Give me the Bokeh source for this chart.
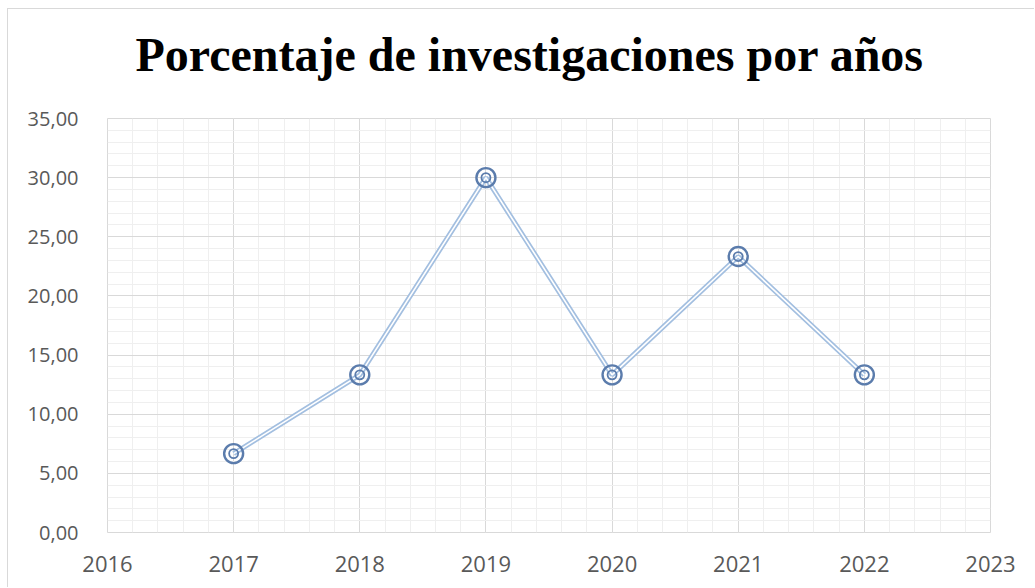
from bokeh.plotting import figure
from bokeh.models import (ColumnDataSource, SingleIntervalTicker, CustomJSTickFormatter,
                          Range1d, Title)
from bokeh.embed import file_html
from bokeh.resources import INLINE

# ---- data ----
years = [2017, 2018, 2019, 2020, 2021, 2022]
percent = [6.67, 13.33, 30.00, 13.33, 23.33, 13.33]
title_text = "Porcentaje de investigaciones por años"

src = ColumnDataSource(dict(x=years, y=percent))

p = figure(width=1027, height=579, output_backend="svg", toolbar_location=None,
           x_range=Range1d(2016, 2023), y_range=Range1d(0, 35),
           min_border_left=99, min_border_right=45, min_border_top=109, min_border_bottom=56)
p.margin = (8, 0, 0, 7)
p.styles = {"border-top": "1px solid #d9d9d9", "border-left": "1px solid #d9d9d9"}
p.background_fill_color = "white"
p.border_fill_color = "white"
p.outline_line_color = "#d9d9d9"
p.outline_line_width = 1

# title (outermost) + blank spacer between title and frame
p.title = Title(text=title_text, align="left", offset=28, standoff=0,
                text_font="Liberation Serif", text_font_style="bold",
                text_font_size="48px", text_color="black")
p.add_layout(Title(text=" ", standoff=0, text_font_size="32px"), "above")

# axes
p.xaxis.ticker = SingleIntervalTicker(interval=1, num_minor_ticks=5)
p.yaxis.ticker = SingleIntervalTicker(interval=5, num_minor_ticks=5)
p.yaxis.formatter = CustomJSTickFormatter(code="return tick.toFixed(2).replace('.', ',');")
for ax in (p.xaxis, p.yaxis):
    ax.axis_line_color = None
    ax.major_tick_line_color = None
    ax.minor_tick_line_color = None
    ax.major_label_text_color = "#595959"
    ax.major_label_text_font = "Open Sans"
p.yaxis.major_label_text_font_size = "20px"
p.xaxis.major_label_text_font_size = "22px"
p.yaxis.major_label_standoff = 23
p.xaxis.major_label_standoff = 17

# grids
p.xgrid.ticker = p.xaxis.ticker
p.ygrid.ticker = p.yaxis.ticker
for g in (p.xgrid, p.ygrid):
    g.grid_line_color = "#d9d9d9"
    g.grid_line_width = 1
    g.minor_grid_line_color = "#efefef"
    g.minor_grid_line_width = 1

# double line
p.line("x", "y", source=src, line_color="#a3bfe0", line_width=5)
p.line("x", "y", source=src, line_color="white", line_width=1.6)

# double-ring markers
p.scatter("x", "y", source=src, marker="circle", size=19, fill_color=None,
          line_color="#5b7cac", line_width=2.4)
p.scatter("x", "y", source=src, marker="circle", size=9, fill_color=None,
          line_color="#5b7cac", line_width=1.8)

open("out.html", "w").write(file_html(p, INLINE))
